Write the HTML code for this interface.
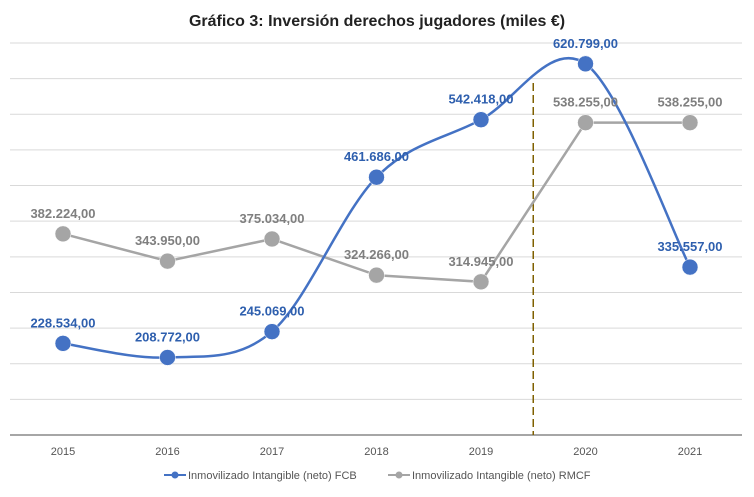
<!DOCTYPE html>
<html><head><meta charset="utf-8"><style>
body{margin:0;background:#fff;font-family:"Liberation Sans",sans-serif}
</style></head><body>
<svg id="c" width="754" height="492" xmlns="http://www.w3.org/2000/svg">
<text x="377" y="26" text-anchor="middle" font-size="16" font-weight="bold" fill="#222">Gráfico 3: Inversión derechos jugadores (miles €)</text>
<g id="grid"></g><g id="series"></g><g id="labels"></g>
<g>
<g><line x1="164" y1="475" x2="186" y2="475" stroke="#4472C4" stroke-width="2"/><circle cx="175" cy="475" r="3.5" fill="#4472C4"/><text x="188" y="479" font-size="11" fill="#555">Inmovilizado Intangible (neto) FCB</text></g>
<g><line x1="388" y1="475" x2="410" y2="475" stroke="#A5A5A5" stroke-width="2"/><circle cx="399" cy="475" r="3.5" fill="#A5A5A5"/><text x="412" y="479" font-size="11" fill="#555">Inmovilizado Intangible (neto) RMCF</text></g>
</g>
</svg>
<script>
const years=["2015","2016","2017","2018","2019","2020","2021"];
const fcb=[228534,208772,245069,461686,542418,620799,335557];
const rmcf=[382224,343950,375034,324266,314945,538255,538255];
const fcbLabels=["228.534,00","208.772,00","245.069,00","461.686,00","542.418,00","620.799,00","335.557,00"];
const rmcfLabels=["382.224,00","343.950,00","375.034,00","324.266,00","314.945,00","538.255,00","538.255,00"];
const yMin=100000,yMax=650000,yStep=50000;
const NS="http://www.w3.org/2000/svg";
const X=i=>63+i*104.5, Y=v=>435-(v-yMin)/(yMax-yMin)*392;
function mk(t,a,p){const e=document.createElementNS(NS,t);for(const k in a)e.setAttribute(k,a[k]);p.appendChild(e);return e;}
const g=document.getElementById('grid'),s=document.getElementById('series'),lb=document.getElementById('labels');
for(let v=yMin+yStep;v<=yMax;v+=yStep){const l=mk('line',{x1:10,x2:742,y1:Y(v),y2:Y(v),stroke:'#d9d9d9','stroke-width':1},g);

}
const ax=mk('line',{x1:10,x2:742,y1:435,y2:435,stroke:'#888','stroke-width':1.5},g);


years.forEach((y,i)=>{const t=mk('text',{x:X(i),y:455,'text-anchor':'middle','font-size':11,fill:'#555'},g);t.textContent=y;

});
const dl=mk('line',{x1:(X(4)+X(5))/2,x2:(X(4)+X(5))/2,y1:83,y2:435,stroke:'#7f6000','stroke-width':1.5,'stroke-dasharray':'8,4'},g);


const rp=mk('polyline',{points:rmcf.map((v,i)=>X(i)+','+Y(v)).join(' '),fill:'none',stroke:'#A5A5A5','stroke-width':2.5},s);


const pts=fcb.map((v,i)=>[X(i),Y(v)]);let d='M'+pts[0];
for(let i=0;i<pts.length-1;i++){const p0=pts[i-1]||pts[i],p1=pts[i],p2=pts[i+1],p3=pts[i+2]||p2,t=6;
d+=` C${p1[0]+(p2[0]-p0[0])/t},${p1[1]+(p2[1]-p0[1])/t} ${p2[0]-(p3[0]-p1[0])/t},${p2[1]-(p3[1]-p1[1])/t} ${p2[0]},${p2[1]}`;}
const fp=mk('path',{d,fill:'none',stroke:'#4472C4','stroke-width':2.5},s);


function pts2(arr,col,lab,lc,name){arr.forEach((v,i)=>{const c=mk('circle',{cx:X(i),cy:Y(v),r:8,fill:col,stroke:'#fff','stroke-width':0.5},s);


const t=mk('text',{x:X(i),y:Y(v)-16,'text-anchor':'middle','font-size':13,'font-weight':'bold',fill:lc},lb);t.textContent=lab[i];

});}
pts2(rmcf,'#A5A5A5',rmcfLabels,'#7f7f7f','rmcf');
pts2(fcb,'#4472C4',fcbLabels,'#2e5fae','fcb');
</script>
</body></html>
